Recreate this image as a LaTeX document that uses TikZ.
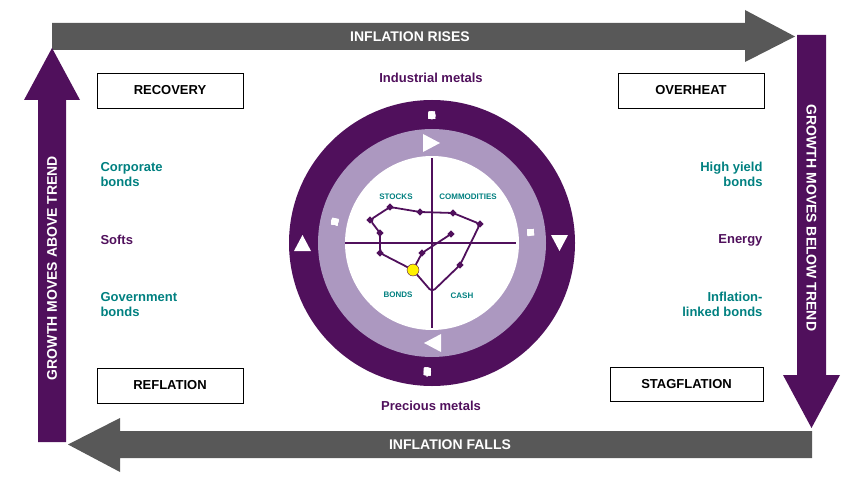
\documentclass[tikz,border=0pt]{standalone}
\usepackage{fontspec}
\setmainfont{Liberation Sans}
\definecolor{dpurple}{RGB}{80,16,92}
\definecolor{lpurple}{RGB}{172,152,192}
\definecolor{agray}{RGB}{88,88,88}
\definecolor{teal2}{RGB}{0,128,128}
\makeatletter
\newdimen\arcpos
\newdimen\chw
\newbox\chbox
\def\spc{_}
\newcommand\arctext[5]{%
 \begingroup #4%
 \arcpos=0pt
 \@tfor\c:=#5\do{\ifx\c\spc\setbox\chbox\hbox{\ }\else\setbox\chbox\hbox{\c}\fi\advance\arcpos\wd\chbox}%
 \pgfmathsetmacro\totalw{\arcpos}%
 \arcpos=0pt
 \@tfor\c:=#5\do{%
   \ifx\c\spc\setbox\chbox\hbox{\ }\else\setbox\chbox\hbox{\c}\fi
   \chw=\wd\chbox
   \pgfmathsetmacro\cw{\chw}%
   \pgfmathsetmacro\ang{#2+#3*(\totalw/2-\arcpos-\cw/2)/#1*57.2958}%
   \pgfmathsetmacro\rot{\ang-#3*90}%
   \ifx\c\spc\else\node[text=white,font=#4,rotate=\rot,inner sep=0pt,anchor=base] at (\ang:#1) {\c};\fi
   \advance\arcpos\chw }%
 \endgroup}
\makeatother
\tikzset{
 lbl/.style={font=\bfseries\fontsize{13}{15}\selectfont,align=left},
 box/.style={draw=black,thick,fill=white,minimum width=146pt,minimum height=35pt,font=\bfseries\fontsize{13}{15}\selectfont},
 arrtxt/.style={text=white,font=\bfseries\fontsize{14}{16}\selectfont},
 qlbl/.style={text=teal2,font=\bfseries\fontsize{8}{9}\selectfont},
 dot/.style={fill=dpurple,draw=none,minimum size=5pt,inner sep=0pt,rotate=45}
}
\begin{document}
\begin{tikzpicture}[x=1pt,y=-1pt]
\useasboundingbox (0,0) rectangle (867,492);
% arrows
\fill[agray] (52,23) -- (745,23) -- (745,10) -- (795,36.5) -- (745,62) -- (745,50) -- (52,50) -- cycle;
\node[arrtxt] (ir) at (410,36.5) {INFLATION RISES};
\fill[agray] (812,431) -- (120,431) -- (120,418) -- (68,444.5) -- (120,472) -- (120,458) -- (812,458) -- cycle;
\node[arrtxt] (if) at (450,444.5) {INFLATION FALLS};
\fill[dpurple] (797,35) -- (826,35) -- (826,375) -- (840,375) -- (811.5,428) -- (783,375) -- (797,375) -- cycle;
\node[arrtxt,rotate=-90] (gb) at (811.5,218) {GROWTH MOVES BELOW TREND};
\fill[dpurple] (38,442) -- (66,442) -- (66,100) -- (80,100) -- (52,48) -- (24,100) -- (38,100) -- cycle;
\node[arrtxt,rotate=90] (ga) at (52,268) {GROWTH MOVES ABOVE TREND};
% boxes
\node[box] (rec) at (170,90.5) {RECOVERY};
\node[box] (ovh) at (691,90.5) {OVERHEAT};
\node[box] (ref) at (170,385.5) {REFLATION};
\node[box,minimum width=153pt,minimum height=34pt] (stg) at (686.5,384) {STAGFLATION};
% side labels
\node[lbl,text=teal2,anchor=west] (cb) at (97,174.5) {Corporate\\bonds};
\node[lbl,text=dpurple,anchor=west] (so) at (97,240) {Softs};
\node[lbl,text=teal2,anchor=west] (gvb) at (97,304.5) {Government\\bonds};
\node[lbl,text=teal2,anchor=east,align=right] (hy) at (766,174.5) {High yield\\bonds};
\node[lbl,text=dpurple,anchor=east] (en) at (766,240) {Energy};
\node[lbl,text=teal2,anchor=east,align=right] (ilb) at (766,304.5) {Inflation-\\linked bonds};
\node[lbl,text=dpurple] (im) at (431,78) {Industrial metals};
\node[lbl,text=dpurple] (pm) at (431,406) {Precious metals};
% circle
\begin{scope}[shift={(432,243)},y=1pt]
\fill[dpurple] (0,0) circle (143);
\fill[lpurple] (0,0) circle (114);
\fill[white] (0,0) circle (87);
\arctext{123}{90}{1}{\bfseries\fontsize{10.5}{12}\selectfont}{TECHNOLOGY_\&_INDUSTRIALS}
\arctext{133}{268}{-1}{\bfseries\fontsize{10.5}{12}\selectfont}{TELECOM,_STAPLES,_HEALTHCARE_\&_UTILITIES}
\arctext{96}{168}{1}{\bfseries\fontsize{9.5}{11}\selectfont}{FINANCIALS_\&_CONSUMER_DISCRETIONARY}
\arctext{96}{6}{1}{\bfseries\fontsize{9.5}{11}\selectfont}{MATERIALS_\&_ENEGRY}
\end{scope}
% triangles
\fill[white] (423,134) -- (440,143) -- (423,152) -- cycle;
\fill[white] (551,235) -- (568,235) -- (559.5,251) -- cycle;
\fill[white] (441,334) -- (424,343) -- (441,352) -- cycle;
\fill[white] (294,251) -- (311,251) -- (302.5,235) -- cycle;
% quadrant
\draw[dpurple,line width=1.2pt] (345,243) -- (516,243);
\draw[dpurple,line width=1.2pt] (432,158) -- (432,328);
\node[qlbl] (st) at (396,197) {STOCKS};
\node[qlbl] (co) at (468,197) {COMMODITIES};
\node[qlbl] (bo) at (398,295) {BONDS};
\node[qlbl] (ca) at (462,296) {CASH};
% loop
\draw[dpurple,line width=1.8pt,rounded corners=4pt] (451,234) -- (422,253) -- (413,270) -- (432,292) -- (460,265) -- (480,224) -- (453,213) -- (420,212) -- (390,207) -- (370,220) -- (380,233) -- (380,253) -- (413,270);
\foreach \p/\n in {{(451,234)}/d1,{(422,253)}/d2,{(460,265)}/d3,{(480,224)}/d4,{(453,213)}/d5,{(420,212)}/d6,{(390,207)}/d7,{(370,220)}/d8,{(380,233)}/d9,{(380,253)}/d10}
 \node[dot] (\n) at \p {};
\node[circle,fill=yellow,draw=dpurple,thin,minimum size=12pt,inner sep=0pt] (yc) at (413,270) {};
\end{tikzpicture}
\end{document}
